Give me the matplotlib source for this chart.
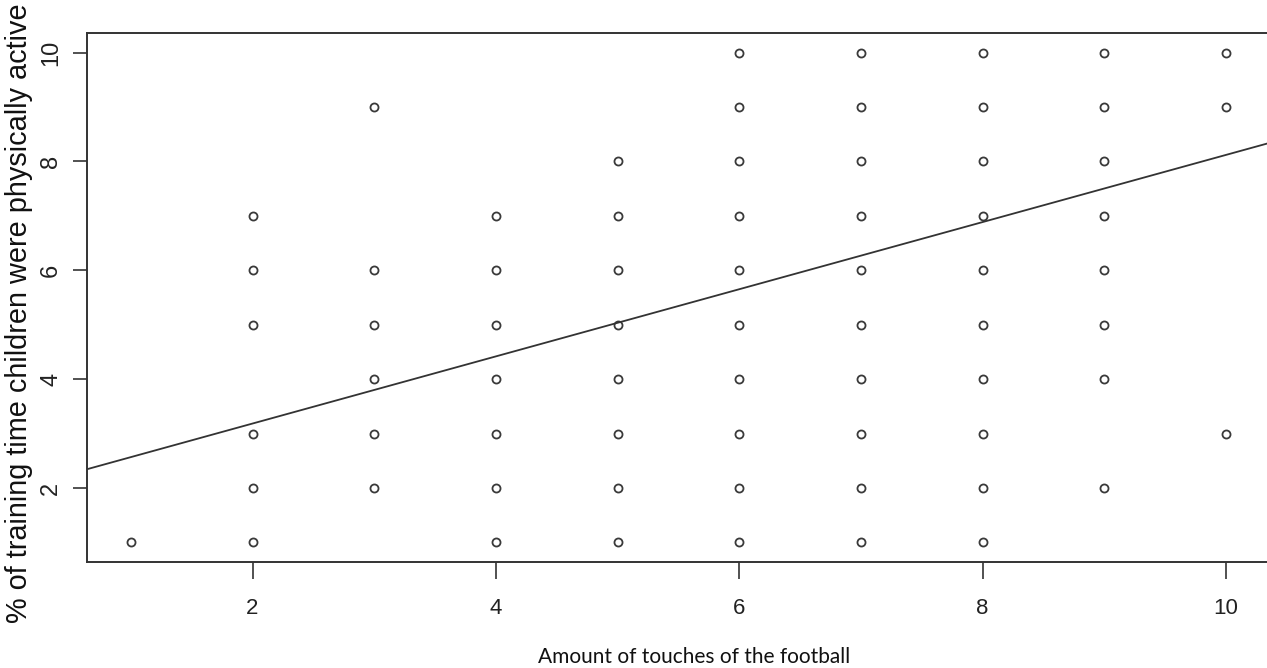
import matplotlib
matplotlib.use("Agg")
import matplotlib.pyplot as plt
from matplotlib import font_manager

# touches (x) and % active (y), one entry per visible point
touches = [1,
           2, 2, 2, 2, 2, 2,
           3, 3, 3, 3, 3, 3,
           4, 4, 4, 4, 4, 4, 4,
           5, 5, 5, 5, 5, 5, 5, 5,
           6, 6, 6, 6, 6, 6, 6, 6, 6, 6,
           7, 7, 7, 7, 7, 7, 7, 7, 7, 7,
           8, 8, 8, 8, 8, 8, 8, 8, 8, 8,
           9, 9, 9, 9, 9, 9, 9, 9,
           10, 10, 10]
active = [1,
          1, 2, 3, 5, 6, 7,
          2, 3, 4, 5, 6, 9,
          1, 2, 3, 4, 5, 6, 7,
          1, 2, 3, 4, 5, 6, 7, 8,
          1, 2, 3, 4, 5, 6, 7, 8, 9, 10,
          1, 2, 3, 4, 5, 6, 7, 8, 9, 10,
          1, 2, 3, 4, 5, 6, 7, 8, 9, 10,
          2, 4, 5, 6, 7, 8, 9, 10,
          3, 9, 10]

# fitted line
intercept = 1.95
slope = 0.617

xticks = [2, 4, 6, 8, 10]
yticks = [2, 4, 6, 8, 10]

names = {f.name for f in font_manager.fontManager.ttflist}
narrow = "Liberation Sans Narrow" if "Liberation Sans Narrow" in names else "Liberation Sans"

fig = plt.figure(figsize=(12.67, 6.68), dpi=100)
ax = fig.add_axes([0.0687, 0.1587, 0.9335, 0.7919])

ax.plot(touches, active, linestyle="none", marker="o", markersize=5.8,
        markerfacecolor="none", markeredgecolor="#3a3a3a", markeredgewidth=1.3)
ax.axline((0, intercept), slope=slope, color="#333333", linewidth=1.3)

ax.set_xlim(0.64, 10.36)
ax.set_ylim(0.64, 10.36)

ax.set_xticks(xticks)
ax.set_yticks(yticks)
ax.set_xticklabels([str(t) for t in xticks], fontsize=16, family=narrow)
ax.set_yticklabels([str(t) for t in yticks], fontsize=17, family="Liberation Sans",
                   rotation=90, va="center")
ax.tick_params(axis="x", length=12, width=1.2, pad=14, colors="#333333", labelcolor="#222222")
ax.tick_params(axis="y", length=10, width=1.2, pad=8, colors="#333333", labelcolor="#222222")

for s in ax.spines.values():
    s.set_linewidth(1.4)
    s.set_color("#333333")

ax.set_xlabel("Amount of touches of the football", fontsize=15, family="Lato",
              color="#111111")
ax.xaxis.set_label_coords(0.513, -0.16)
ax.set_ylabel("% of training time children were physically active", fontsize=20.8,
              family="Liberation Sans", color="#111111")
ax.yaxis.set_label_coords(-0.046, 0.47)

fig.savefig("out.png", dpi=100)
